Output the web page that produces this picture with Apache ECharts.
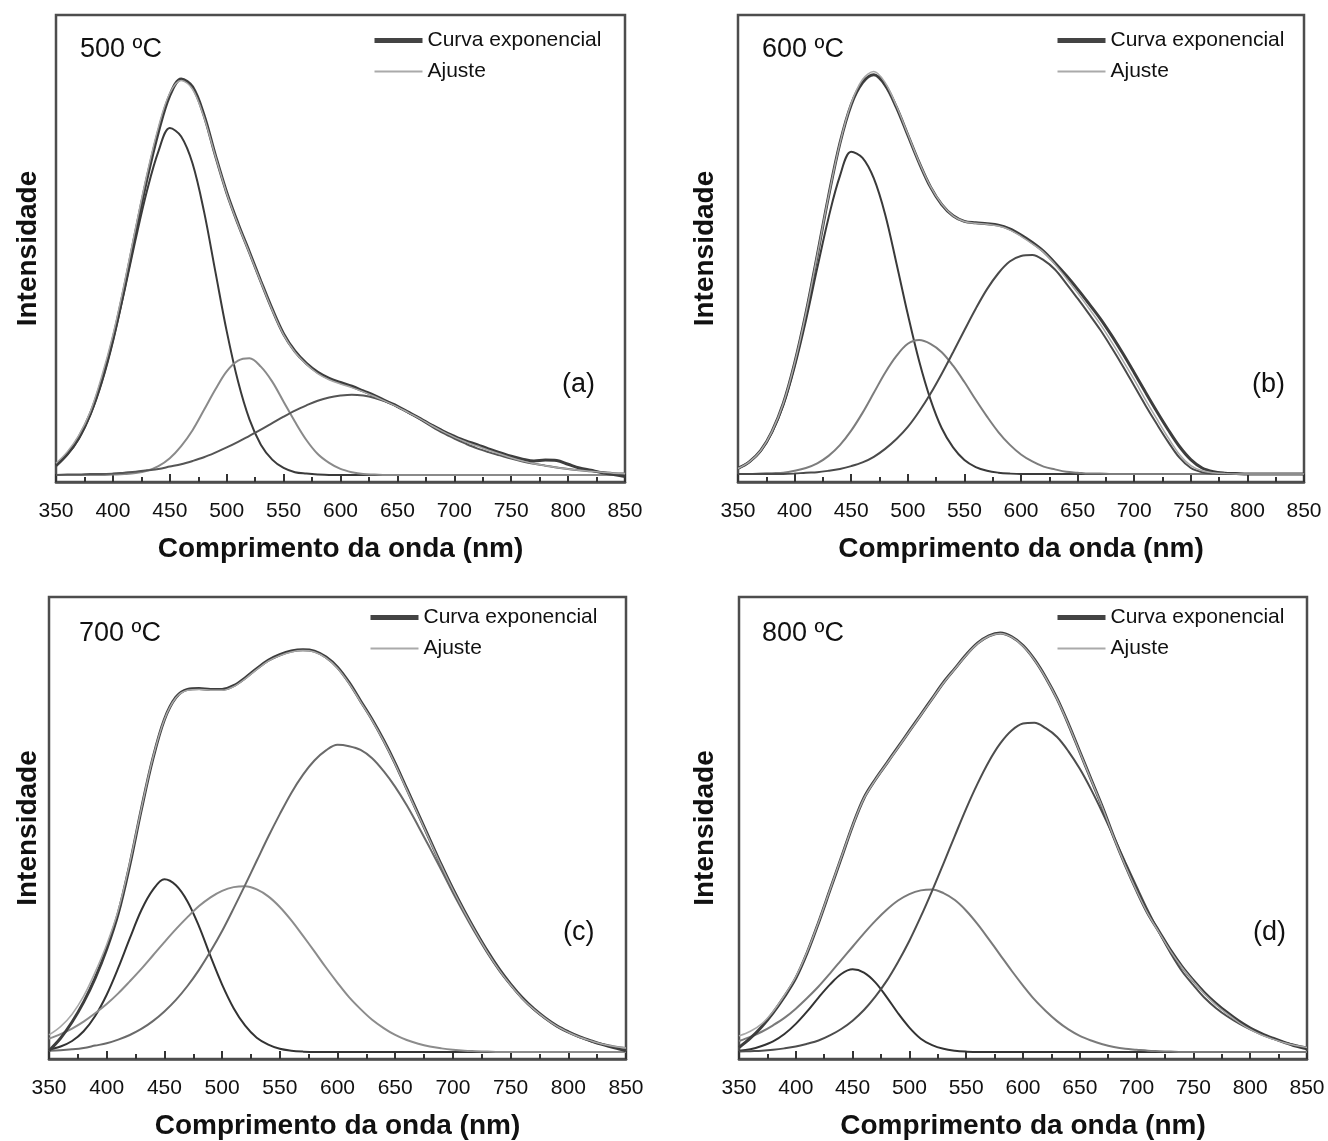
<!DOCTYPE html>
<html>
<head>
<meta charset="utf-8">
<script src="https://cdn.jsdelivr.net/npm/echarts@6/dist/echarts.min.js"></script>
<style>
    html, body { margin: 0; background: #fff; }
    #grafico { width: 1328px; height: 1141px; }
</style>
</head>
<body>
<div id="grafico"></div>
<script>
var wavelengths = [350,360,370,380,390,400,410,420,430,440,450,460,470,480,490,500,510,520,530,540,550,560,570,580,590,600,610,620,630,640,650,660,670,680,690,700,710,720,730,740,750,760,770,780,790,800,810,820,830,840,850];

// 500 ºC
var curva500 = [3.5,6.0,9.5,14.5,21.5,30.5,41.5,53.5,65.0,75.0,82.8,86.3,84.6,78.6,70.0,62.0,55.3,49.2,43.0,37.0,31.7,28.0,25.4,23.5,22.2,21.3,20.5,19.5,18.5,17.3,16.2,14.9,13.6,12.2,10.9,9.8,8.8,8.0,7.1,6.3,5.5,4.9,4.5,4.7,4.6,3.8,3.0,2.5,2.0,1.6,1.2];
var ajuste500 = [4.0,6.5,10.0,15.0,22.5,31.5,42.5,54.5,66.0,76.0,83.3,86.0,84.1,78.1,69.8,61.8,55.1,49.0,42.8,36.8,31.5,27.8,25.2,23.2,21.9,21.0,20.2,19.3,18.3,17.2,16.1,14.8,13.5,12.1,10.8,9.6,8.6,7.7,6.8,6.0,5.2,4.5,3.9,3.5,3.1,2.8,2.5,2.3,2.1,1.9,1.8];
var pico1_500 = [3.9,5.9,9.2,14.3,21.3,30.3,40.8,52.0,62.4,70.8,75.8,74.0,68.2,58.0,45.1,32.3,21.5,13.4,8.0,4.8,3.0,2.1,1.8,1.6,1.5,1.5,1.5,1.5,1.5,1.5,1.5,1.5,1.5,1.5,1.5,1.5,1.5,1.5,1.5,1.5,1.5,1.5,1.5,1.5,1.5,1.5,1.5,1.5,1.5,1.5,1.5];
var pico2_500 = [1.5,1.5,1.5,1.5,1.5,1.6,1.7,1.9,2.4,3.4,5.1,7.7,11.1,15.4,19.8,23.7,26.0,26.5,24.7,21.5,17.2,12.9,9.0,6.0,4.1,2.8,2.1,1.7,1.6,1.5,1.5,1.5,1.5,1.5,1.5,1.5,1.5,1.5,1.5,1.5,1.5,1.5,1.5,1.5,1.5,1.5,1.5,1.5,1.5,1.5,1.5];
var pico3_500 = [1.5,1.6,1.6,1.7,1.7,1.8,2.0,2.2,2.5,2.8,3.3,3.8,4.5,5.3,6.3,7.4,8.6,9.9,11.2,12.6,14.0,15.3,16.4,17.4,18.1,18.5,18.7,18.5,18.0,17.2,16.1,14.8,13.4,11.9,10.5,9.3,8.2,7.2,6.4,5.7,5.0,4.4,3.9,3.5,3.1,2.8,2.5,2.3,2.1,1.9,1.8];

// 600 ºC
var curva600 = [2.9,4.3,6.7,10.8,16.8,25.4,36.1,48.5,61.2,72.5,80.8,85.5,87.2,85.0,80.2,74.3,68.4,63.2,59.4,57.0,55.8,55.5,55.3,55.0,54.2,52.9,51.3,49.4,46.9,44.2,41.3,38.2,35.0,31.4,27.5,23.4,19.2,15.1,11.2,7.6,4.8,3.0,2.2,1.9,1.8,1.7,1.7,1.7,1.7,1.7,1.7];
var ajuste600 = [2.9,4.3,6.7,10.8,16.8,25.4,36.1,48.5,61.2,72.5,81.1,86.2,87.9,85.5,80.5,74.5,68.5,63.3,59.5,57.0,55.8,55.4,55.2,54.8,54.0,52.6,51.0,49.2,46.6,43.6,40.5,37.2,33.8,30.0,26.0,21.9,17.6,13.5,9.5,5.9,3.5,2.4,2.0,1.8,1.7,1.7,1.7,1.7,1.7,1.7,1.7];
var pico1_600 = [2.9,4.3,6.6,10.6,16.4,24.6,34.6,45.8,56.6,65.5,70.7,69.4,65.0,57.3,46.8,35.9,25.9,17.7,11.5,7.4,4.7,3.2,2.4,2.0,1.8,1.7,1.7,1.7,1.7,1.7,1.7,1.7,1.7,1.7,1.7,1.7,1.7,1.7,1.7,1.7,1.7,1.7,1.7,1.7,1.7,1.7,1.7,1.7,1.7,1.7,1.7];
var pico2_600 = [1.7,1.7,1.8,1.9,2.0,2.4,3.0,4.0,5.6,7.9,11.0,14.8,19.1,23.4,27.0,29.6,30.4,29.6,27.8,24.9,21.4,17.6,14.0,10.7,8.0,5.9,4.4,3.3,2.7,2.2,2.0,1.8,1.8,1.7,1.7,1.7,1.7,1.7,1.7,1.7,1.7,1.7,1.7,1.7,1.7,1.7,1.7,1.7,1.7,1.7,1.7];
var pico3_600 = [1.7,1.7,1.7,1.7,1.7,1.8,2.0,2.1,2.4,2.8,3.4,4.2,5.4,7.1,9.2,11.8,15.1,18.9,23.2,27.8,32.5,37.1,41.3,44.7,47.2,48.4,48.6,47.5,45.5,42.5,39.3,36.0,32.6,28.8,24.8,20.6,16.4,12.4,8.6,5.2,3.0,2.1,1.8,1.7,1.7,1.7,1.7,1.7,1.7,1.7,1.7];

// 700 ºC
var curva700 = [1.8,4.5,8.0,12.3,17.5,23.8,31.5,42.0,54.0,65.0,73.5,78.3,80.0,80.2,80.0,80.0,80.8,82.5,84.5,86.3,87.5,88.3,88.6,88.3,87.0,84.8,81.5,77.5,73.5,69.0,64.0,58.5,53.0,47.5,42.0,36.8,32.0,27.5,23.3,19.5,16.2,13.3,10.9,8.9,7.2,5.9,4.8,3.9,3.1,2.4,1.8];
var ajuste700 = [5.2,7.0,9.7,13.6,18.8,24.8,32.2,42.5,54.2,65.2,73.5,78.2,79.8,80.0,79.8,79.8,80.6,82.3,84.3,86.1,87.3,88.1,88.4,88.1,86.8,84.6,81.3,77.3,73.3,68.8,63.8,58.3,52.8,47.3,41.8,36.6,31.8,27.3,23.1,19.3,16.0,13.1,10.8,8.8,7.1,5.8,4.7,3.9,3.2,2.7,2.4];
var pico1_700 = [2.0,2.7,3.9,6.0,9.3,13.9,19.7,26.1,32.2,36.6,38.9,37.6,34.1,28.7,22.2,16.1,11.0,7.2,4.6,3.1,2.2,1.8,1.6,1.5,1.5,1.5,1.5,1.5,1.5,1.5,1.5,1.5,1.5,1.5,1.5,1.5,1.5,1.5,1.5,1.5,1.5,1.5,1.5,1.5,1.5,1.5,1.5,1.5,1.5,1.5,1.5];
var pico2_700 = [4.4,5.4,6.6,8.1,9.9,11.9,14.2,16.8,19.5,22.4,25.3,28.1,30.7,33.1,35.0,36.4,37.2,37.4,36.7,35.2,32.9,30.0,26.7,23.3,19.8,16.5,13.4,10.8,8.5,6.7,5.2,4.1,3.3,2.7,2.3,2.0,1.8,1.7,1.6,1.5,1.5,1.5,1.5,1.5,1.5,1.5,1.5,1.5,1.5,1.5,1.5];
var pico3_700 = [1.8,1.9,2.1,2.4,2.9,3.4,4.2,5.2,6.5,8.2,10.3,12.8,15.8,19.3,23.3,27.7,32.6,37.7,42.9,48.1,53.0,57.6,61.5,64.6,66.8,68.0,67.7,66.9,65.1,62.3,58.9,54.9,50.4,45.7,40.9,36.0,31.4,27.0,22.9,19.2,16.0,13.1,10.7,8.7,7.0,5.7,4.7,3.8,3.2,2.7,2.4];

// 800 ºC
var curva800 = [2.5,4.5,7.0,10.0,13.5,17.5,23.0,29.5,36.5,43.5,50.5,56.5,60.5,64.0,67.5,71.0,74.5,78.0,81.5,84.5,87.5,90.0,91.6,92.2,91.4,89.5,86.5,82.6,78.0,72.5,66.5,60.5,54.5,48.0,42.0,36.5,31.5,27.5,23.5,20.0,17.0,14.3,12.0,10.0,8.2,6.7,5.5,4.5,3.6,2.8,2.2];
var ajuste800 = [5.0,6.0,7.6,10.3,13.8,17.8,23.2,29.6,36.6,43.6,50.5,56.4,60.4,63.9,67.4,70.9,74.4,77.9,81.4,84.4,87.4,89.9,91.5,92.1,91.3,89.4,86.4,82.5,77.9,72.4,66.4,60.4,54.4,47.9,41.9,36.4,31.4,27.3,23.3,19.8,16.8,14.0,11.7,9.7,7.9,6.4,5.2,4.3,3.5,2.9,2.5];
var pico1_800 = [1.8,2.1,2.8,3.8,5.4,7.6,10.3,13.3,16.1,18.4,19.4,18.7,16.6,13.4,9.9,6.8,4.4,3.0,2.2,1.8,1.6,1.5,1.5,1.5,1.5,1.5,1.5,1.5,1.5,1.5,1.5,1.5,1.5,1.5,1.5,1.5,1.5,1.5,1.5,1.5,1.5,1.5,1.5,1.5,1.5,1.5,1.5,1.5,1.5,1.5,1.5];
var pico2_800 = [3.9,4.8,5.9,7.3,8.9,10.9,13.2,15.7,18.5,21.4,24.3,27.2,29.9,32.3,34.3,35.7,36.5,36.7,35.9,34.4,32.1,29.2,25.9,22.5,19.1,15.9,12.9,10.4,8.2,6.4,5.0,4.0,3.2,2.6,2.2,2.0,1.8,1.7,1.6,1.5,1.5,1.5,1.5,1.5,1.5,1.5,1.5,1.5,1.5,1.5,1.5];
var pico3_800 = [1.6,1.7,1.8,2.0,2.3,2.7,3.3,4.0,5.1,6.5,8.3,10.6,13.5,16.9,21.0,25.6,30.8,36.4,42.3,48.3,54.2,59.6,64.4,68.3,71.1,72.6,72.8,71.6,69.7,66.6,62.8,58.3,53.3,48.0,42.6,37.3,32.1,27.3,22.9,19.0,16.0,13.2,11.0,9.2,7.7,6.4,5.3,4.4,3.6,3.0,2.5];

var fonte = '"Liberation Sans", Arial, sans-serif';

var paineis = [
    { temp: '500 ºC', tag: '(a)', curva: curva500, ajuste: ajuste500,
      picos: [pico1_500, pico2_500, pico3_500], cores: ['#3a3a3a', '#8a8a8a', '#555555'],
      grid: { left: 56, top: 15, width: 569, height: 467 }, yGap: 14,
      titulo: [80, 36], rotulo: [562, 371], legenda: [372, 30] },
    { temp: '600 ºC', tag: '(b)', curva: curva600, ajuste: ajuste600,
      picos: [pico1_600, pico2_600, pico3_600], cores: ['#3a3a3a', '#7d7d7d', '#4a4a4a'],
      grid: { left: 738, top: 15, width: 566, height: 467 }, yGap: 19,
      titulo: [762, 36], rotulo: [1252, 371], legenda: [1055, 30] },
    { temp: '700 ºC', tag: '(c)', curva: curva700, ajuste: ajuste700,
      picos: [pico1_700, pico2_700, pico3_700], cores: ['#333333', '#8c8c8c', '#6a6a6a'],
      grid: { left: 49, top: 597, width: 577, height: 463 }, yGap: 7,
      titulo: [79, 620], rotulo: [563, 919], legenda: [368, 607] },
    { temp: '800 ºC', tag: '(d)', curva: curva800, ajuste: ajuste800,
      picos: [pico1_800, pico2_800, pico3_800], cores: ['#333333', '#7a7a7a', '#4d4d4d'],
      grid: { left: 739, top: 597, width: 568, height: 463 }, yGap: 20,
      titulo: [762, 620], rotulo: [1253, 919], legenda: [1055, 607] }
];

function pares(vals) {
    return wavelengths.map(function (w, i) { return [w, vals[i]]; });
}

var option = {
    backgroundColor: '#fff',
    animation: false,
    textStyle: { fontFamily: fonte },
    title: [], grid: [], xAxis: [], yAxis: [], legend: [], series: []
};

paineis.forEach(function (p, k) {
    option.grid.push({
        left: p.grid.left, top: p.grid.top, width: p.grid.width, height: p.grid.height,
        show: true, borderColor: '#4d4d4d', borderWidth: 2.5, backgroundColor: 'transparent'
    });
    option.xAxis.push({
        gridIndex: k, type: 'value', min: 350, max: 850, interval: 50,
        axisLine: { show: true, lineStyle: { color: '#4d4d4d', width: 2.5 } },
        axisTick: { show: true, inside: true, length: 8, lineStyle: { color: '#333', width: 2 } },
        minorTick: { show: true, splitNumber: 2, length: 5, lineStyle: { color: '#333', width: 2 } },
        axisLabel: { fontSize: 21, color: '#111', margin: 19, fontFamily: fonte },
        splitLine: { show: false },
        name: 'Comprimento da onda (nm)', nameLocation: 'middle', nameGap: 53,
        nameTextStyle: { fontSize: 28, fontWeight: 'bold', color: '#111', fontFamily: fonte }
    });
    option.yAxis.push({
        gridIndex: k, type: 'value', min: 0, max: 100,
        axisLine: { show: false }, axisTick: { show: false }, axisLabel: { show: false },
        splitLine: { show: false },
        name: 'Intensidade', nameLocation: 'middle', nameGap: p.yGap,
        nameTextStyle: { fontSize: 28, fontWeight: 'bold', color: '#111', fontFamily: fonte }
    });
    option.title.push({
        text: p.temp, left: p.titulo[0], top: p.titulo[1], padding: 0,
        textStyle: { fontSize: 27, fontWeight: 'normal', color: '#111', fontFamily: fonte }
    });
    option.title.push({
        text: p.tag, left: p.rotulo[0], top: p.rotulo[1], padding: 0,
        textStyle: { fontSize: 27, fontWeight: 'normal', color: '#111', fontFamily: fonte }
    });
    option.legend.push({
        left: p.legenda[0], top: p.legenda[1], orient: 'vertical',
        itemWidth: 48, itemHeight: 14, itemGap: 10, selectedMode: false, padding: 0,
        itemStyle: { opacity: 0 },
        data: [
            { name: 'Curva exponencial', lineStyle: { width: 5, color: '#444' } },
            { name: 'Ajuste', lineStyle: { width: 2, color: '#aaa' } }
        ],
        textStyle: { fontSize: 21, color: '#111', fontFamily: fonte }
    });
    p.picos.forEach(function (pico, j) {
        option.series.push({
            name: 'Pico ' + (j + 1) + ' ' + p.temp, type: 'line',
            xAxisIndex: k, yAxisIndex: k, data: pares(pico),
            smooth: 0.35, symbol: 'none', z: 2,
            lineStyle: { color: p.cores[j], width: 2 }
        });
    });
    option.series.push({
        name: 'Curva exponencial', type: 'line', xAxisIndex: k, yAxisIndex: k,
        data: pares(p.curva), smooth: 0.35, symbol: 'none', z: 3,
        itemStyle: { color: '#3d3d3d' },
        lineStyle: { color: '#3d3d3d', width: 3 }
    });
    option.series.push({
        name: 'Ajuste', type: 'line', xAxisIndex: k, yAxisIndex: k,
        data: pares(p.ajuste), smooth: 0.35, symbol: 'none', z: 4,
        itemStyle: { color: '#a8a8a8' },
        lineStyle: { color: '#a8a8a8', width: 1.5 }
    });
});

var grafico = echarts.init(document.getElementById('grafico'));
grafico.setOption(option);
</script>
</body>
</html>
